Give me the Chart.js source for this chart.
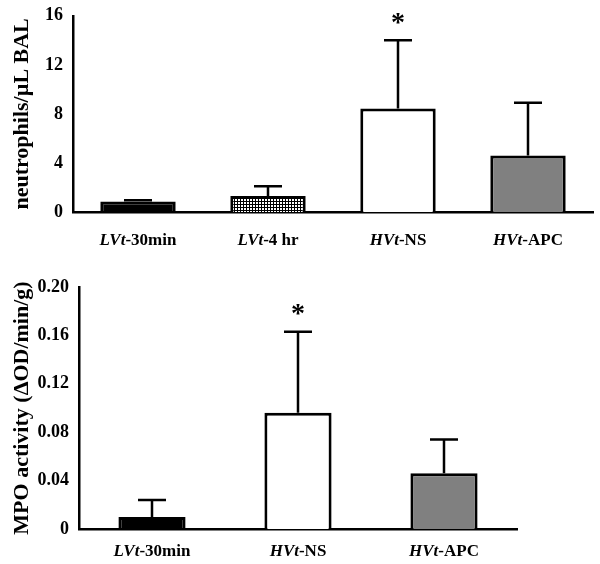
<!DOCTYPE html>
<html>
<head>
<meta charset="utf-8">
<script src="https://cdn.jsdelivr.net/npm/chart.js@4"></script>
<style>
  body { margin: 0; background: #fff; }
  #wrapTop { position: absolute; left: 0; top: 0; width: 600px; height: 262px; }
  #wrapBottom { position: absolute; left: 0; top: 270px; width: 600px; height: 294px; }
</style>
</head>
<body>
<div id="wrapTop"><canvas id="chartTop"></canvas></div>
<div id="wrapBottom"><canvas id="chartBottom"></canvas></div>
<script>
// top panel - neutrophils in BAL
const topCats = ['LVt-30min', 'LVt-4 hr', 'HVt-NS', 'HVt-APC'];
const topMeans = [0.85, 1.3, 8.45, 4.6];
const topErr = [0.1, 0.8, 5.55, 4.3];
const topStars = [false, false, true, false];
const topTicks = [0, 4, 8, 12, 16];

// bottom panel - MPO activity
const botCats = ['LVt-30min', 'HVt-NS', 'HVt-APC'];
const botMeans = [0.01, 0.096, 0.046];
const botErr = [0.014, 0.067, 0.028];
const botStars = [false, true, false];
const botTicks = [0, 0.04, 0.08, 0.12, 0.16, 0.20];

const FONT = "'Liberation Serif', 'Times New Roman', serif";

// little grid pattern for the LVt-4 hr bar
function gridPattern() {
    let c = document.createElement('canvas');
    c.width = 3; c.height = 3;
    let g = c.getContext('2d');
    g.fillStyle = '#fff';
    g.fillRect(0, 0, 3, 3);
    g.fillStyle = '#000';
    g.fillRect(0, 0, 3, 1);
    g.fillRect(0, 0, 1, 3);
    return document.createElement('canvas').getContext('2d').createPattern(c, 'repeat');
}

// error bars, stars and the mixed italic/bold x labels
const extras = {
    id: 'extras',
    afterDatasetsDraw(chart, args, opts) {
        const ctx = chart.ctx;
        const xs = chart.scales.x, ys = chart.scales.y;
        ctx.save();
        ctx.strokeStyle = '#000';
        ctx.lineWidth = 2.5;
        opts.means.forEach((m, i) => {
            let x = xs.getPixelForValue(i);
            let y0 = ys.getPixelForValue(m);
            let y1 = ys.getPixelForValue(m + opts.err[i]);
            ctx.beginPath();
            ctx.moveTo(x, y0);
            ctx.lineTo(x, y1);
            ctx.moveTo(x - opts.cap / 2, y1);
            ctx.lineTo(x + opts.cap / 2, y1);
            ctx.stroke();
            if (opts.stars[i]) {
                ctx.fillStyle = '#000';
                ctx.font = 'bold 28px ' + FONT;
                ctx.textAlign = 'center';
                ctx.textBaseline = 'middle';
                ctx.fillText('*', x, y1 - 17);
            }
        });
        // x labels
        ctx.fillStyle = '#000';
        ctx.textBaseline = 'middle';
        ctx.textAlign = 'left';
        chart.data.labels.forEach((lab, i) => {
            let k = lab.indexOf('-');
            let a = lab.slice(0, k), b = lab.slice(k);
            ctx.font = 'italic bold 17px ' + FONT;
            let wa = ctx.measureText(a).width;
            ctx.font = 'bold 17px ' + FONT;
            let wb = ctx.measureText(b).width;
            let x = xs.getPixelForValue(i) - (wa + wb) / 2;
            let y = xs.bottom - opts.labelUp;
            ctx.font = 'italic bold 17px ' + FONT;
            ctx.fillText(a, x, y);
            ctx.font = 'bold 17px ' + FONT;
            ctx.fillText(b, x + wa, y);
        });
        ctx.restore();
    }
};

function makeChart(id, cats, means, err, stars, ticks, colors, o) {
    const config = {
        type: 'bar',
        data: {
            labels: cats,
            datasets: [{
                data: means,
                backgroundColor: colors,
                borderColor: '#000',
                borderWidth: 3,
                borderSkipped: 'bottom',
                categoryPercentage: 1,
                barPercentage: o.barPct
            }]
        },
        options: {
            responsive: true,
            maintainAspectRatio: false,
            animation: false,
            layout: { padding: { left: 0, right: o.right, top: o.top, bottom: 0 } },
            plugins: {
                legend: { display: false },
                tooltip: { enabled: false },
                extras: { means: means, err: err, stars: stars, cap: 28, labelUp: o.labelUp }
            },
            scales: {
                x: {
                    grid: { display: false, drawTicks: false },
                    border: { color: '#000', width: 2.5 },
                    ticks: { display: false },
                    afterFit(s) { s.height = o.xh; }
                },
                y: {
                    min: ticks[0],
                    max: ticks[ticks.length - 1],
                    afterBuildTicks(s) { s.ticks = ticks.map(v => ({ value: v })); },
                    grid: { display: false, drawTicks: true, tickLength: 5, tickColor: '#000', tickWidth: 2 },
                    border: { color: '#000', width: 2.5 },
                    ticks: {
                        color: '#000',
                        padding: 5,
                        font: { family: FONT, size: 18, weight: 'bold' },
                        callback: (v) => o.fmt(v)
                    },
                    title: {
                        display: true,
                        text: o.title,
                        color: '#000',
                        padding: { top: 9, bottom: 0 },
                        font: { family: FONT, size: 22, weight: 'bold' }
                    },
                    afterFit(s) { s.width = o.yw; }
                }
            }
        },
        plugins: [extras]
    };
    return new Chart(document.getElementById(id), config);
}

const pat = gridPattern();

makeChart('chartTop', topCats, topMeans, topErr, topStars, topTicks,
    ['#000', pat, '#fff', '#808080'],
    { barPct: 0.58, right: 7, top: 15, xh: 50, yw: 73, labelUp: 21,
      title: 'neutrophils/\u00b5L BAL', fmt: v => String(v) });

makeChart('chartBottom', botCats, botMeans, botErr, botStars, botTicks,
    ['#000', '#fff', '#808080'],
    { barPct: 0.46, right: 83, top: 17, xh: 35, yw: 79, labelUp: 12,
      title: 'MPO activity (\u0394OD/min/g)', fmt: v => v === 0 ? '0' : v.toFixed(2) });
</script>
</body>
</html>
